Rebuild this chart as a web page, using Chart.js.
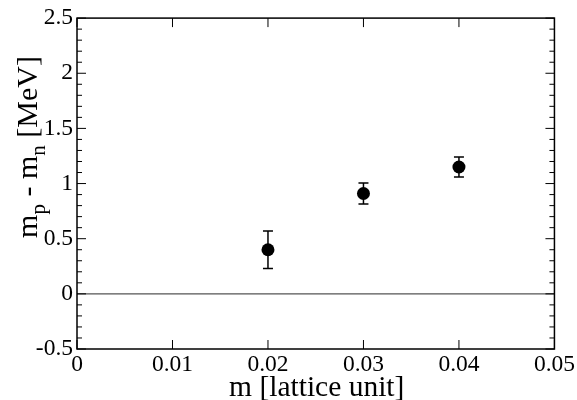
<!DOCTYPE html>
<html>
<head>
<meta charset="utf-8">
<title>mp - mn vs m</title>
<script src="https://cdn.jsdelivr.net/npm/chart.js@4.4.1/dist/chart.umd.min.js"></script>
<style>
  html, body {
    margin: 0;
    padding: 0;
    background: #ffffff;
  }
  #chart-box {
    width: 577px;
    height: 400px;
  }
</style>
</head>
<body>
<div id="chart-box">
  <canvas id="splitChart" width="577" height="400"></canvas>
</div>
<script>
// data
const quarkMass = [0.02, 0.03, 0.04];
const massSplit = [0.40, 0.91, 1.15];
const splitError = [0.17, 0.095, 0.09];

// tick labels
const xTickLabels = ["0", "0.01", "0.02", "0.03", "0.04", "0.05"];
const yTickLabels = ["-0.5", "0", "0.5", "1", "1.5", "2", "2.5"];

const serif = "'Liberation Serif', 'Times New Roman', serif";

let points = quarkMass.map((m, i) => ({ x: m, y: massSplit[i] }));

// frame, zero line, inward ticks
const framePlugin = {
  id: "framePlugin",
  beforeDatasetsDraw(chart) {
    const ctx = chart.ctx;
    const area = chart.chartArea;
    const xs = chart.scales.x;
    const ys = chart.scales.y;

    ctx.save();
    // zero line
    let y0 = ys.getPixelForValue(0);
    ctx.strokeStyle = "#555555";
    ctx.lineWidth = 1.2;
    ctx.beginPath();
    ctx.moveTo(area.left, y0);
    ctx.lineTo(area.right, y0);
    ctx.stroke();

    // error bars
    ctx.strokeStyle = "#000000";
    ctx.lineWidth = 1.5;
    points.forEach((p, i) => {
      let px = xs.getPixelForValue(p.x);
      let top = ys.getPixelForValue(p.y + splitError[i]);
      let bot = ys.getPixelForValue(p.y - splitError[i]);
      ctx.beginPath();
      ctx.moveTo(px, top);
      ctx.lineTo(px, bot);
      ctx.moveTo(px - 5, top);
      ctx.lineTo(px + 5, top);
      ctx.moveTo(px - 5, bot);
      ctx.lineTo(px + 5, bot);
      ctx.stroke();
    });
    ctx.restore();
  },
  afterDraw(chart) {
    const ctx = chart.ctx;
    const area = chart.chartArea;
    const xs = chart.scales.x;
    const ys = chart.scales.y;

    ctx.save();
    ctx.strokeStyle = "#000000";
    ctx.lineWidth = 1;
    ctx.beginPath();
    // x major ticks, bottom and top
    xs.ticks.forEach((t) => {
      let px = xs.getPixelForValue(t.value);
      ctx.moveTo(px, area.bottom);
      ctx.lineTo(px, area.bottom - 9);
      ctx.moveTo(px, area.top);
      ctx.lineTo(px, area.top + 9);
    });
    // y ticks, left and right
    for (let k = 0; k <= 30; k++) {
      let v = -0.5 + k * 0.1;
      let py = ys.getPixelForValue(v);
      let len = k % 5 === 0 ? 9 : 5;
      ctx.moveTo(area.left, py);
      ctx.lineTo(area.left + len, py);
      ctx.moveTo(area.right, py);
      ctx.lineTo(area.right - len, py);
    }
    ctx.stroke();

    // frame
    ctx.lineWidth = 1.5;
    ctx.strokeRect(area.left, area.top, area.right - area.left, area.bottom - area.top);

    // x title
    ctx.fillStyle = "#000000";
    ctx.font = "29.5px " + serif;
    ctx.textAlign = "center";
    ctx.textBaseline = "alphabetic";
    ctx.fillText("m [lattice unit]", (area.left + area.right) / 2 + 1, 396);

    // y title with subscripts, rotated
    const mainFont = "30px " + serif;
    const subFont = "21px " + serif;
    const parts = [
      { text: "m", font: mainFont, shift: 0 },
      { text: "p", font: subFont, shift: 8 },
      { text: " - ", font: mainFont, shift: 0 },
      { text: "m", font: mainFont, shift: 0 },
      { text: "n", font: subFont, shift: 8 },
      { text: " [MeV]", font: mainFont, shift: 0 },
    ];
    let total = 0;
    parts.forEach((part) => {
      ctx.font = part.font;
      part.width = ctx.measureText(part.text).width;
      total += part.width;
    });
    ctx.translate(37, 147);
    ctx.rotate(-Math.PI / 2);
    ctx.textAlign = "left";
    let cx = -total / 2;
    parts.forEach((part) => {
      ctx.font = part.font;
      ctx.fillText(part.text, cx, part.shift);
      cx += part.width;
    });
    ctx.restore();
  },
};

const ctx = document.getElementById("splitChart").getContext("2d");

let splitChart = new Chart(ctx, {
  type: "scatter",
  data: {
    datasets: [
      {
        label: "mp - mn",
        data: points,
        backgroundColor: "#000000",
        borderWidth: 0,
        pointRadius: 6.5,
        pointHoverRadius: 6.5,
      },
    ],
  },
  options: {
    responsive: false,
    animation: false,
    devicePixelRatio: 1,
    layout: {
      padding: { top: 15, right: 22, left: 0, bottom: 0 },
    },
    scales: {
      x: {
        type: "linear",
        min: 0,
        max: 0.05,
        grid: { display: false, drawTicks: false },
        border: { display: false },
        ticks: {
          stepSize: 0.01,
          padding: 2,
          maxRotation: 0,
          color: "#000000",
          font: { family: serif, size: 23.5 },
          callback: function (value, index) {
            return xTickLabels[index];
          },
        },
        afterFit: function (scale) {
          scale.height = 51;
        },
      },
      y: {
        min: -0.5,
        max: 2.5,
        grid: { display: false, drawTicks: false },
        border: { display: false },
        ticks: {
          stepSize: 0.5,
          padding: 4,
          color: "#000000",
          font: { family: serif, size: 23.5 },
          callback: function (value, index) {
            return yTickLabels[index];
          },
        },
        afterFit: function (scale) {
          scale.width = 77;
        },
      },
    },
    plugins: {
      legend: { display: false },
      tooltip: { enabled: false },
      title: { display: false },
    },
  },
  plugins: [framePlugin],
});
</script>
</body>
</html>
